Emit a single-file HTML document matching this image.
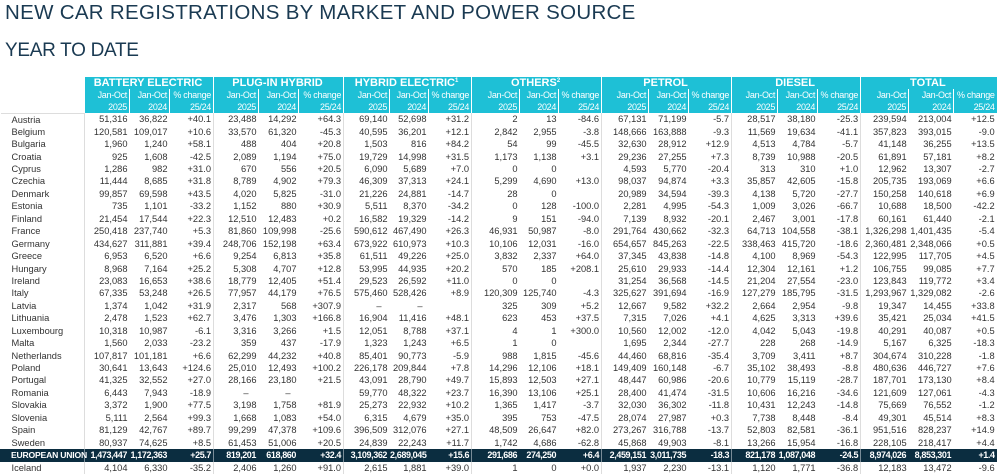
<!DOCTYPE html>
<html><head><meta charset="utf-8"><style>
body{margin:0;width:1000px;height:465px;overflow:hidden;background:#fff;font-family:"Liberation Sans",Arial,sans-serif;position:relative}
.t1{position:absolute;left:5px;top:1px;font-size:20.5px;color:#1a3a52;letter-spacing:0.3px;white-space:nowrap}
.t2{position:absolute;left:5px;top:40px;font-size:19px;color:#1a3a52;letter-spacing:-0.3px;white-space:nowrap}
table{position:absolute;left:0;top:77px;border-collapse:collapse;table-layout:fixed;width:996px}
td{padding:0 2px 0 0;text-align:right;font-size:9.3px;color:#333;height:12.45px;line-height:12px;white-space:nowrap;overflow:hidden;box-sizing:border-box}
td.c{text-align:left;padding-left:11px}
tr.g td{background:#1ec0d6;color:#fff;font-weight:bold;font-size:11px;text-align:center;height:12px;line-height:12px;border-left:1.5px solid #fff;overflow:hidden}
tr.g td.e{background:#fff;border:none}
tr.s td{background:#1ec0d6;color:#fff;font-size:9px;height:24px;line-height:12px;border-left:1px solid #fff;letter-spacing:-0.3px}
tr.s td.e{background:#fff;border:none;border-bottom:1px solid #ddd}
tr.s td.gl{border-left:1.5px solid #fff}
td.b{border-left:1px solid #ddd}
sup{font-size:6px;line-height:0;vertical-align:4px}
tr.eu td{background:#0b2d40;color:#fff;font-weight:bold;height:13px;border-left:1px solid #0b2d40;letter-spacing:-0.4px;overflow:visible;font-size:9px}
tr.eu td.b{border-left:1px solid #7a8c98}
tr.eu td.c{font-size:8.6px;padding-left:10px;letter-spacing:-0.2px}
</style></head><body>
<div class="t1">NEW CAR REGISTRATIONS BY MARKET AND POWER SOURCE</div>
<div class="t2">YEAR TO DATE</div>
<table>
<colgroup><col style="width:84px">
<col style="width:45px"><col style="width:40px"><col style="width:44px">
<col style="width:45px"><col style="width:40px"><col style="width:45px">
<col style="width:46px"><col style="width:39px"><col style="width:43px">
<col style="width:48px"><col style="width:39px"><col style="width:43px">
<col style="width:47px"><col style="width:40px"><col style="width:43px">
<col style="width:46px"><col style="width:40px"><col style="width:43px">
<col style="width:48px"><col style="width:45px"><col style="width:43px">
</colgroup>
<tr class="g"><td class="e"></td><td colspan="3">BATTERY ELECTRIC</td><td colspan="3">PLUG-IN HYBRID</td><td colspan="3">HYBRID ELECTRIC<sup>1</sup></td><td colspan="3">OTHERS<sup>2</sup></td><td colspan="3">PETROL</td><td colspan="3">DIESEL</td><td colspan="3">TOTAL</td></tr>
<tr class="s"><td class="e"></td>
<td class="gl">Jan-Oct<br>2025</td><td>Jan-Oct<br>2024</td><td>% change<br>25/24</td>
<td class="gl">Jan-Oct<br>2025</td><td>Jan-Oct<br>2024</td><td>% change<br>25/24</td>
<td class="gl">Jan-Oct<br>2025</td><td>Jan-Oct<br>2024</td><td>% change<br>25/24</td>
<td class="gl">Jan-Oct<br>2025</td><td>Jan-Oct<br>2024</td><td>% change<br>25/24</td>
<td class="gl">Jan-Oct<br>2025</td><td>Jan-Oct<br>2024</td><td>% change<br>25/24</td>
<td class="gl">Jan-Oct<br>2025</td><td>Jan-Oct<br>2024</td><td>% change<br>25/24</td>
<td class="gl">Jan-Oct<br>2025</td><td>Jan-Oct<br>2024</td><td>% change<br>25/24</td></tr>
<tr><td class="c">Austria</td><td class="b">51,316</td><td>36,822</td><td>+40.1</td><td class="b">23,488</td><td>14,292</td><td>+64.3</td><td class="b">69,140</td><td>52,698</td><td>+31.2</td><td class="b">2</td><td>13</td><td>-84.6</td><td class="b">67,131</td><td>71,199</td><td>-5.7</td><td class="b">28,517</td><td>38,180</td><td>-25.3</td><td class="b">239,594</td><td>213,004</td><td>+12.5</td></tr>
<tr><td class="c">Belgium</td><td class="b">120,581</td><td>109,017</td><td>+10.6</td><td class="b">33,570</td><td>61,320</td><td>-45.3</td><td class="b">40,595</td><td>36,201</td><td>+12.1</td><td class="b">2,842</td><td>2,955</td><td>-3.8</td><td class="b">148,666</td><td>163,888</td><td>-9.3</td><td class="b">11,569</td><td>19,634</td><td>-41.1</td><td class="b">357,823</td><td>393,015</td><td>-9.0</td></tr>
<tr><td class="c">Bulgaria</td><td class="b">1,960</td><td>1,240</td><td>+58.1</td><td class="b">488</td><td>404</td><td>+20.8</td><td class="b">1,503</td><td>816</td><td>+84.2</td><td class="b">54</td><td>99</td><td>-45.5</td><td class="b">32,630</td><td>28,912</td><td>+12.9</td><td class="b">4,513</td><td>4,784</td><td>-5.7</td><td class="b">41,148</td><td>36,255</td><td>+13.5</td></tr>
<tr><td class="c">Croatia</td><td class="b">925</td><td>1,608</td><td>-42.5</td><td class="b">2,089</td><td>1,194</td><td>+75.0</td><td class="b">19,729</td><td>14,998</td><td>+31.5</td><td class="b">1,173</td><td>1,138</td><td>+3.1</td><td class="b">29,236</td><td>27,255</td><td>+7.3</td><td class="b">8,739</td><td>10,988</td><td>-20.5</td><td class="b">61,891</td><td>57,181</td><td>+8.2</td></tr>
<tr><td class="c">Cyprus</td><td class="b">1,286</td><td>982</td><td>+31.0</td><td class="b">670</td><td>556</td><td>+20.5</td><td class="b">6,090</td><td>5,689</td><td>+7.0</td><td class="b">0</td><td>0</td><td></td><td class="b">4,593</td><td>5,770</td><td>-20.4</td><td class="b">313</td><td>310</td><td>+1.0</td><td class="b">12,962</td><td>13,307</td><td>-2.7</td></tr>
<tr><td class="c">Czechia</td><td class="b">11,444</td><td>8,685</td><td>+31.8</td><td class="b">8,789</td><td>4,902</td><td>+79.3</td><td class="b">46,309</td><td>37,313</td><td>+24.1</td><td class="b">5,299</td><td>4,690</td><td>+13.0</td><td class="b">98,037</td><td>94,874</td><td>+3.3</td><td class="b">35,857</td><td>42,605</td><td>-15.8</td><td class="b">205,735</td><td>193,069</td><td>+6.6</td></tr>
<tr><td class="c">Denmark</td><td class="b">99,857</td><td>69,598</td><td>+43.5</td><td class="b">4,020</td><td>5,825</td><td>-31.0</td><td class="b">21,226</td><td>24,881</td><td>-14.7</td><td class="b">28</td><td>0</td><td></td><td class="b">20,989</td><td>34,594</td><td>-39.3</td><td class="b">4,138</td><td>5,720</td><td>-27.7</td><td class="b">150,258</td><td>140,618</td><td>+6.9</td></tr>
<tr><td class="c">Estonia</td><td class="b">735</td><td>1,101</td><td>-33.2</td><td class="b">1,152</td><td>880</td><td>+30.9</td><td class="b">5,511</td><td>8,370</td><td>-34.2</td><td class="b">0</td><td>128</td><td>-100.0</td><td class="b">2,281</td><td>4,995</td><td>-54.3</td><td class="b">1,009</td><td>3,026</td><td>-66.7</td><td class="b">10,688</td><td>18,500</td><td>-42.2</td></tr>
<tr><td class="c">Finland</td><td class="b">21,454</td><td>17,544</td><td>+22.3</td><td class="b">12,510</td><td>12,483</td><td>+0.2</td><td class="b">16,582</td><td>19,329</td><td>-14.2</td><td class="b">9</td><td>151</td><td>-94.0</td><td class="b">7,139</td><td>8,932</td><td>-20.1</td><td class="b">2,467</td><td>3,001</td><td>-17.8</td><td class="b">60,161</td><td>61,440</td><td>-2.1</td></tr>
<tr><td class="c">France</td><td class="b">250,418</td><td>237,740</td><td>+5.3</td><td class="b">81,860</td><td>109,998</td><td>-25.6</td><td class="b">590,612</td><td>467,490</td><td>+26.3</td><td class="b">46,931</td><td>50,987</td><td>-8.0</td><td class="b">291,764</td><td>430,662</td><td>-32.3</td><td class="b">64,713</td><td>104,558</td><td>-38.1</td><td class="b">1,326,298</td><td>1,401,435</td><td>-5.4</td></tr>
<tr><td class="c">Germany</td><td class="b">434,627</td><td>311,881</td><td>+39.4</td><td class="b">248,706</td><td>152,198</td><td>+63.4</td><td class="b">673,922</td><td>610,973</td><td>+10.3</td><td class="b">10,106</td><td>12,031</td><td>-16.0</td><td class="b">654,657</td><td>845,263</td><td>-22.5</td><td class="b">338,463</td><td>415,720</td><td>-18.6</td><td class="b">2,360,481</td><td>2,348,066</td><td>+0.5</td></tr>
<tr><td class="c">Greece</td><td class="b">6,953</td><td>6,520</td><td>+6.6</td><td class="b">9,254</td><td>6,813</td><td>+35.8</td><td class="b">61,511</td><td>49,226</td><td>+25.0</td><td class="b">3,832</td><td>2,337</td><td>+64.0</td><td class="b">37,345</td><td>43,838</td><td>-14.8</td><td class="b">4,100</td><td>8,969</td><td>-54.3</td><td class="b">122,995</td><td>117,705</td><td>+4.5</td></tr>
<tr><td class="c">Hungary</td><td class="b">8,968</td><td>7,164</td><td>+25.2</td><td class="b">5,308</td><td>4,707</td><td>+12.8</td><td class="b">53,995</td><td>44,935</td><td>+20.2</td><td class="b">570</td><td>185</td><td>+208.1</td><td class="b">25,610</td><td>29,933</td><td>-14.4</td><td class="b">12,304</td><td>12,161</td><td>+1.2</td><td class="b">106,755</td><td>99,085</td><td>+7.7</td></tr>
<tr><td class="c">Ireland</td><td class="b">23,083</td><td>16,653</td><td>+38.6</td><td class="b">18,779</td><td>12,405</td><td>+51.4</td><td class="b">29,523</td><td>26,592</td><td>+11.0</td><td class="b">0</td><td>0</td><td></td><td class="b">31,254</td><td>36,568</td><td>-14.5</td><td class="b">21,204</td><td>27,554</td><td>-23.0</td><td class="b">123,843</td><td>119,772</td><td>+3.4</td></tr>
<tr><td class="c">Italy</td><td class="b">67,335</td><td>53,248</td><td>+26.5</td><td class="b">77,957</td><td>44,179</td><td>+76.5</td><td class="b">575,460</td><td>528,426</td><td>+8.9</td><td class="b">120,309</td><td>125,740</td><td>-4.3</td><td class="b">325,627</td><td>391,694</td><td>-16.9</td><td class="b">127,279</td><td>185,795</td><td>-31.5</td><td class="b">1,293,967</td><td>1,329,082</td><td>-2.6</td></tr>
<tr><td class="c">Latvia</td><td class="b">1,374</td><td>1,042</td><td>+31.9</td><td class="b">2,317</td><td>568</td><td>+307.9</td><td class="b" style="padding-right:8px">–</td><td style="padding-right:6px">–</td><td></td><td class="b">325</td><td>309</td><td>+5.2</td><td class="b">12,667</td><td>9,582</td><td>+32.2</td><td class="b">2,664</td><td>2,954</td><td>-9.8</td><td class="b">19,347</td><td>14,455</td><td>+33.8</td></tr>
<tr><td class="c">Lithuania</td><td class="b">2,478</td><td>1,523</td><td>+62.7</td><td class="b">3,476</td><td>1,303</td><td>+166.8</td><td class="b">16,904</td><td>11,416</td><td>+48.1</td><td class="b">623</td><td>453</td><td>+37.5</td><td class="b">7,315</td><td>7,026</td><td>+4.1</td><td class="b">4,625</td><td>3,313</td><td>+39.6</td><td class="b">35,421</td><td>25,034</td><td>+41.5</td></tr>
<tr><td class="c">Luxembourg</td><td class="b">10,318</td><td>10,987</td><td>-6.1</td><td class="b">3,316</td><td>3,266</td><td>+1.5</td><td class="b">12,051</td><td>8,788</td><td>+37.1</td><td class="b">4</td><td>1</td><td>+300.0</td><td class="b">10,560</td><td>12,002</td><td>-12.0</td><td class="b">4,042</td><td>5,043</td><td>-19.8</td><td class="b">40,291</td><td>40,087</td><td>+0.5</td></tr>
<tr><td class="c">Malta</td><td class="b">1,560</td><td>2,033</td><td>-23.2</td><td class="b">359</td><td>437</td><td>-17.9</td><td class="b">1,323</td><td>1,243</td><td>+6.5</td><td class="b">1</td><td>0</td><td></td><td class="b">1,695</td><td>2,344</td><td>-27.7</td><td class="b">228</td><td>268</td><td>-14.9</td><td class="b">5,167</td><td>6,325</td><td>-18.3</td></tr>
<tr><td class="c">Netherlands</td><td class="b">107,817</td><td>101,181</td><td>+6.6</td><td class="b">62,299</td><td>44,232</td><td>+40.8</td><td class="b">85,401</td><td>90,773</td><td>-5.9</td><td class="b">988</td><td>1,815</td><td>-45.6</td><td class="b">44,460</td><td>68,816</td><td>-35.4</td><td class="b">3,709</td><td>3,411</td><td>+8.7</td><td class="b">304,674</td><td>310,228</td><td>-1.8</td></tr>
<tr><td class="c">Poland</td><td class="b">30,641</td><td>13,643</td><td>+124.6</td><td class="b">25,010</td><td>12,493</td><td>+100.2</td><td class="b">226,178</td><td>209,844</td><td>+7.8</td><td class="b">14,296</td><td>12,106</td><td>+18.1</td><td class="b">149,409</td><td>160,148</td><td>-6.7</td><td class="b">35,102</td><td>38,493</td><td>-8.8</td><td class="b">480,636</td><td>446,727</td><td>+7.6</td></tr>
<tr><td class="c">Portugal</td><td class="b">41,325</td><td>32,552</td><td>+27.0</td><td class="b">28,166</td><td>23,180</td><td>+21.5</td><td class="b">43,091</td><td>28,790</td><td>+49.7</td><td class="b">15,893</td><td>12,503</td><td>+27.1</td><td class="b">48,447</td><td>60,986</td><td>-20.6</td><td class="b">10,779</td><td>15,119</td><td>-28.7</td><td class="b">187,701</td><td>173,130</td><td>+8.4</td></tr>
<tr><td class="c">Romania</td><td class="b">6,443</td><td>7,943</td><td>-18.9</td><td class="b" style="padding-right:10px">–</td><td style="padding-right:8px">–</td><td></td><td class="b">59,770</td><td>48,322</td><td>+23.7</td><td class="b">16,390</td><td>13,106</td><td>+25.1</td><td class="b">28,400</td><td>41,474</td><td>-31.5</td><td class="b">10,606</td><td>16,216</td><td>-34.6</td><td class="b">121,609</td><td>127,061</td><td>-4.3</td></tr>
<tr><td class="c">Slovakia</td><td class="b">3,372</td><td>1,900</td><td>+77.5</td><td class="b">3,198</td><td>1,758</td><td>+81.9</td><td class="b">25,273</td><td>22,932</td><td>+10.2</td><td class="b">1,365</td><td>1,417</td><td>-3.7</td><td class="b">32,030</td><td>36,302</td><td>-11.8</td><td class="b">10,431</td><td>12,243</td><td>-14.8</td><td class="b">75,669</td><td>76,552</td><td>-1.2</td></tr>
<tr><td class="c">Slovenia</td><td class="b">5,111</td><td>2,564</td><td>+99.3</td><td class="b">1,668</td><td>1,083</td><td>+54.0</td><td class="b">6,315</td><td>4,679</td><td>+35.0</td><td class="b">395</td><td>753</td><td>-47.5</td><td class="b">28,074</td><td>27,987</td><td>+0.3</td><td class="b">7,738</td><td>8,448</td><td>-8.4</td><td class="b">49,301</td><td>45,514</td><td>+8.3</td></tr>
<tr><td class="c">Spain</td><td class="b">81,129</td><td>42,767</td><td>+89.7</td><td class="b">99,299</td><td>47,378</td><td>+109.6</td><td class="b">396,509</td><td>312,076</td><td>+27.1</td><td class="b">48,509</td><td>26,647</td><td>+82.0</td><td class="b">273,267</td><td>316,788</td><td>-13.7</td><td class="b">52,803</td><td>82,581</td><td>-36.1</td><td class="b">951,516</td><td>828,237</td><td>+14.9</td></tr>
<tr><td class="c">Sweden</td><td class="b">80,937</td><td>74,625</td><td>+8.5</td><td class="b">61,453</td><td>51,006</td><td>+20.5</td><td class="b">24,839</td><td>22,243</td><td>+11.7</td><td class="b">1,742</td><td>4,686</td><td>-62.8</td><td class="b">45,868</td><td>49,903</td><td>-8.1</td><td class="b">13,266</td><td>15,954</td><td>-16.8</td><td class="b">228,105</td><td>218,417</td><td>+4.4</td></tr>
<tr class="eu"><td class="c">EUROPEAN UNION</td><td class="b">1,473,447</td><td>1,172,363</td><td>+25.7</td><td class="b">819,201</td><td>618,860</td><td>+32.4</td><td class="b">3,109,362</td><td>2,689,045</td><td>+15.6</td><td class="b">291,686</td><td>274,250</td><td>+6.4</td><td class="b">2,459,151</td><td>3,011,735</td><td>-18.3</td><td class="b">821,178</td><td>1,087,048</td><td>-24.5</td><td class="b">8,974,026</td><td>8,853,301</td><td>+1.4</td></tr>
<tr><td class="c">Iceland</td><td class="b">4,104</td><td>6,330</td><td>-35.2</td><td class="b">2,406</td><td>1,260</td><td>+91.0</td><td class="b">2,615</td><td>1,881</td><td>+39.0</td><td class="b">1</td><td>0</td><td>+0.0</td><td class="b">1,937</td><td>2,230</td><td>-13.1</td><td class="b">1,120</td><td>1,771</td><td>-36.8</td><td class="b">12,183</td><td>13,472</td><td>-9.6</td></tr>
</table>
</body></html>
